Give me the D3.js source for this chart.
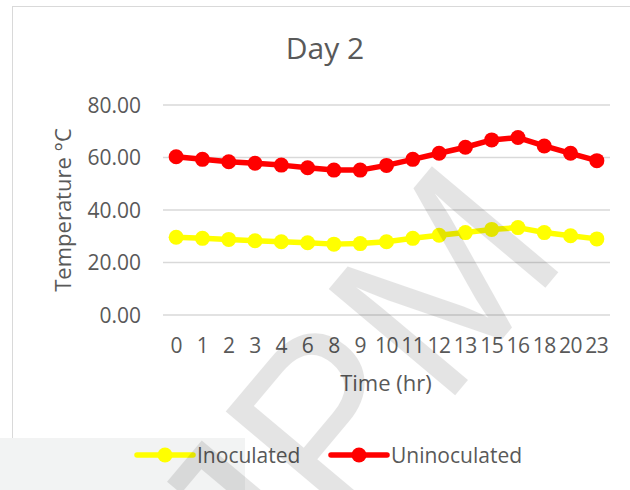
<!DOCTYPE html>
<html>
<head>
<meta charset="utf-8">
<script src="https://cdn.jsdelivr.net/npm/d3@7"></script>
<style>
  body { margin: 0; background: #fff; }
  svg { font-family: "Open Sans", sans-serif; }
</style>
</head>
<body>
<div id="chart"></div>
<script>
// data
const hours = ["0","1","2","3","4","6","8","9","10","11","12","13","15","16","18","20","23"];
const inoculated   = [29.6,29.2,28.8,28.3,27.9,27.5,27.0,27.2,27.9,29.2,30.4,31.4,32.6,33.3,31.4,30.2,29.0];
const uninoculated = [60.3,59.3,58.4,57.8,57.1,56.1,55.2,55.2,57.0,59.3,61.6,63.9,66.7,67.6,64.4,61.6,58.8];
const yTicks = [0, 20, 40, 60, 80];

const W = 630, H = 490;
const plot = {left: 163, right: 610, top: 105, bottom: 315};

const svg = d3.select("#chart").append("svg")
  .attr("width", W).attr("height", H);

// chart frame
svg.append("rect").attr("x", 12.5).attr("y", 6.5).attr("width", 640).attr("height", 520)
  .style("fill", "#fff").style("stroke", "#d9d9d9").style("stroke-width", 1);

// light grey box bottom-left (part of the scan)
svg.append("rect").attr("x", 0).attr("y", 438).attr("width", 245).attr("height", 52)
  .style("fill", "#f2f3f3");

const x = d3.scalePoint().domain(hours).range([plot.left, plot.right]).padding(0.5);
const y = d3.scaleLinear().domain([0, 80]).range([plot.bottom, plot.top]);

// gridlines
svg.append("g").selectAll("line").data(yTicks).enter().append("line")
  .attr("x1", plot.left).attr("x2", plot.right)
  .attr("y1", d => y(d)).attr("y2", d => y(d))
  .style("stroke", "#d9d9d9").style("stroke-width", 1.3);

// y tick labels
svg.append("g").selectAll("text").data(yTicks).enter().append("text")
  .attr("x", 141).attr("y", d => y(d) + 7.5)
  .attr("text-anchor", "end")
  .style("font-size", "21px").style("fill", "#595959")
  .text(d => d.toFixed(2));

// x tick labels
svg.append("g").selectAll("text").data(hours).enter().append("text")
  .attr("x", d => x(d)).attr("y", 353)
  .attr("text-anchor", "middle")
  .style("font-size", "21px").style("letter-spacing", "-0.5px").style("fill", "#595959")
  .text(d => d);

// titles
svg.append("text").attr("x", 325).attr("y", 59).attr("text-anchor", "middle")
  .style("font-size", "30px").style("fill", "#595959").text("Day 2");
svg.append("text").attr("x", 386).attr("y", 391).attr("text-anchor", "middle")
  .style("font-size", "22px").style("fill", "#595959").text("Time (hr)");
svg.append("text").attr("transform", "translate(71,210) rotate(-90)").attr("text-anchor", "middle")
  .style("font-size", "22px").style("fill", "#595959").text("Temperature \u00b0C");

// series
const series = [
  {name: "Inoculated", values: inoculated, color: "#ffff00"},
  {name: "Uninoculated", values: uninoculated, color: "#ff0000"}
];
const line = d3.line().x((d, i) => x(hours[i])).y(d => y(d));

series.forEach(s => {
  svg.append("path").datum(s.values).attr("d", line)
    .style("fill", "none").style("stroke", s.color).style("stroke-width", 5.5)
    .style("stroke-linejoin", "round");
  svg.append("g").selectAll("circle").data(s.values).enter().append("circle")
    .attr("cx", (d, i) => x(hours[i])).attr("cy", d => y(d)).attr("r", 7.5)
    .style("fill", s.color);
});

// legend
const legend = [{x: 137, s: series[0]}, {x: 331, s: series[1]}];
legend.forEach(l => {
  const g = svg.append("g").attr("transform", "translate(" + l.x + ",455)");
  g.append("line").attr("x1", 0).attr("x2", 56).attr("y1", 0).attr("y2", 0)
    .style("stroke", l.s.color).style("stroke-width", 5.5).style("stroke-linecap", "round");
  g.append("circle").attr("cx", 28).attr("cy", 0).attr("r", 7.5).style("fill", l.s.color);
  g.append("text").attr("x", 60).attr("y", 7.5).style("font-size", "21px").style("fill", "#595959")
    .text(l.s.name);
});

// watermark
svg.append("text").attr("transform", "translate(571,257) rotate(-50)")
  .attr("text-anchor", "end")
  .style("font-size", "240px").style("fill", "#000").style("opacity", 0.1)
  .style("font-family", "'Liberation Sans', sans-serif")
  .text("IJPM");
</script>
</body>
</html>
